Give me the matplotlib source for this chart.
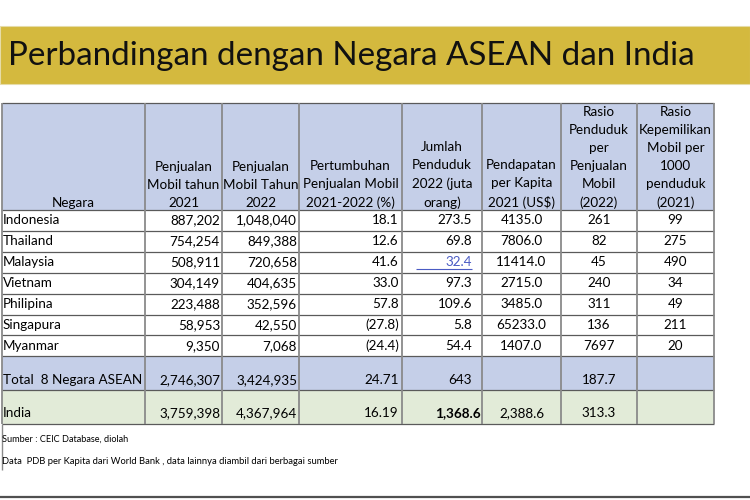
import matplotlib.pyplot as plt
from matplotlib.patches import Rectangle

plt.rcParams['font.family'] = ['Lato', 'DejaVu Sans']

title = "Perbandingan dengan Negara ASEAN dan India"

headers = [
    "Negara",
    "Penjualan\nMobil tahun\n2021",
    "Penjualan\nMobil Tahun\n2022",
    "Pertumbuhan\nPenjualan Mobil\n2021-2022 (%)",
    "Jumlah\nPenduduk\n2022 (juta\norang)",
    "Pendapatan\nper Kapita\n2021 (US$)",
    "Rasio\nPenduduk\nper\nPenjualan\nMobil\n(2022)",
    "Rasio\nKepemilikan\nMobil per\n1000\npenduduk\n(2021)",
]

negara = ["Indonesia", "Thailand", "Malaysia", "Vietnam", "Philipina", "Singapura", "Myanmar"]
jual_2021 = [887202, 754254, 508911, 304149, 223488, 58953, 9350]
jual_2022 = [1048040, 849388, 720658, 404635, 352596, 42550, 7068]
pertumbuhan = [18.1, 12.6, 41.6, 33.0, 57.8, -27.8, -24.4]
penduduk = [273.5, 69.8, 32.4, 97.3, 109.6, 5.8, 54.4]
pendapatan = [4135.0, 7806.0, 11414.0, 2715.0, 3485.0, 65233.0, 1407.0]
rasio_penduduk = [261, 82, 45, 240, 311, 136, 7697]
rasio_kepemilikan = [99, 275, 490, 34, 49, 211, 20]

total_row = ["Total  8 Negara ASEAN", "2,746,307", "3,424,935", "24.71", "643", "", "187.7", ""]
india_row = ["India", "3,759,398", "4,367,964", "16.19", "1,368.6", "2,388.6", "313.3", ""]

footnotes = [
    "Sumber : CEIC Database, diolah",
    "Data  PDB per Kapita dari World Bank , data lainnya diambil dari berbagai sumber",
]

# layout in pixels
col_x = [2, 145, 222, 299, 402, 482, 561, 637, 714]
header_top, header_bot = 103, 210
row_h = 20.9
total_bot = 390
india_bot = 424

blue = '#C5CFE8'
green = '#E2EBD8'
yellow = '#D4B93E'


def fmt_growth(v):
    return f"({abs(v):.1f})" if v < 0 else f"{v:.1f}"


fig = plt.figure(figsize=(7.5, 5), dpi=100)
ax = fig.add_axes([0, 0, 1, 1])
ax.set_xlim(0, 750)
ax.set_ylim(500, 0)
ax.axis('off')

# title band
ax.add_patch(Rectangle((0, 26), 750, 58, facecolor=yellow, edgecolor='#E6DCA8', lw=0.8))
ax.text(8, 56, title, fontsize=23.9, va='center', ha='left', color='#111111')

# fills
data_bot = header_bot + row_h * len(negara)
tw = col_x[-1] - col_x[0]
ax.add_patch(Rectangle((col_x[0], header_top), tw, header_bot - header_top, facecolor=blue, lw=0))
ax.add_patch(Rectangle((col_x[0], data_bot), tw, total_bot - data_bot, facecolor=blue, lw=0))
ax.add_patch(Rectangle((col_x[0], total_bot), tw, india_bot - total_bot, facecolor=green, lw=0))

# grid lines
row_lines = [header_top, header_bot] + [header_bot + row_h * (i + 1) for i in range(len(negara))] + [total_bot, india_bot]
ax.hlines(row_lines, col_x[0], col_x[-1], colors='#5a5a5a', lw=0.9)
ax.vlines(col_x, header_top, india_bot, colors='#8a8a8a', lw=1.3)

fs = 9.7
# header text
for i, h in enumerate(headers):
    cx = (col_x[i] + col_x[i + 1]) / 2
    ax.text(cx, header_bot - 1, h, fontsize=fs, ha='center', va='bottom',
            multialignment='center', linespacing=1.6)

align = ['left', 'right', 'right', 'right', 'right', 'center', 'center', 'center']
pad_r = [0, 2, 2, 3, 10, 0, 0, 0]


def put(i, y, s, **kw):
    a = align[i]
    if a == 'left':
        x = col_x[i] + 1
    elif a == 'right':
        x = col_x[i + 1] - pad_r[i]
    else:
        x = (col_x[i] + col_x[i + 1]) / 2
    return ax.text(x, y, s, fontsize=fs, ha=a, va='center', **kw)


for r in range(len(negara)):
    y = header_bot + row_h * (r + 0.5)
    cells = [negara[r], f"{jual_2021[r]:,}", f"{jual_2022[r]:,}", fmt_growth(pertumbuhan[r]),
             f"{penduduk[r]:.1f}", f"{pendapatan[r]:.1f}", str(rasio_penduduk[r]), str(rasio_kepemilikan[r])]
    for i, s in enumerate(cells):
        if negara[r] == "Malaysia" and i == 4:
            put(i, y, s, color='#4A5BC4')
            ax.hlines(y + 7, 416, col_x[5] - pad_r[4], colors='#4A5BC4', lw=0.8)
        else:
            put(i, y, s)

for i, s in enumerate(total_row):
    put(i, total_bot - 10, s)

for i, s in enumerate(india_row):
    if i == 4:
        ax.text(col_x[5] - 1, india_bot - 11, s, fontsize=fs, ha='right', va='center', fontweight='bold')
    else:
        put(i, india_bot - 11, s)

# footnotes
ax.vlines(col_x[0], india_bot, 470, colors='#8a8a8a', lw=1.0)
ax.text(2, 439, footnotes[0], fontsize=6.6, ha='left', va='center')
ax.text(2, 461, footnotes[1], fontsize=6.75, ha='left', va='center')

ax.hlines(497, 0, 750, colors='#505050', lw=1.6)

fig.savefig('out.png', dpi=100)
